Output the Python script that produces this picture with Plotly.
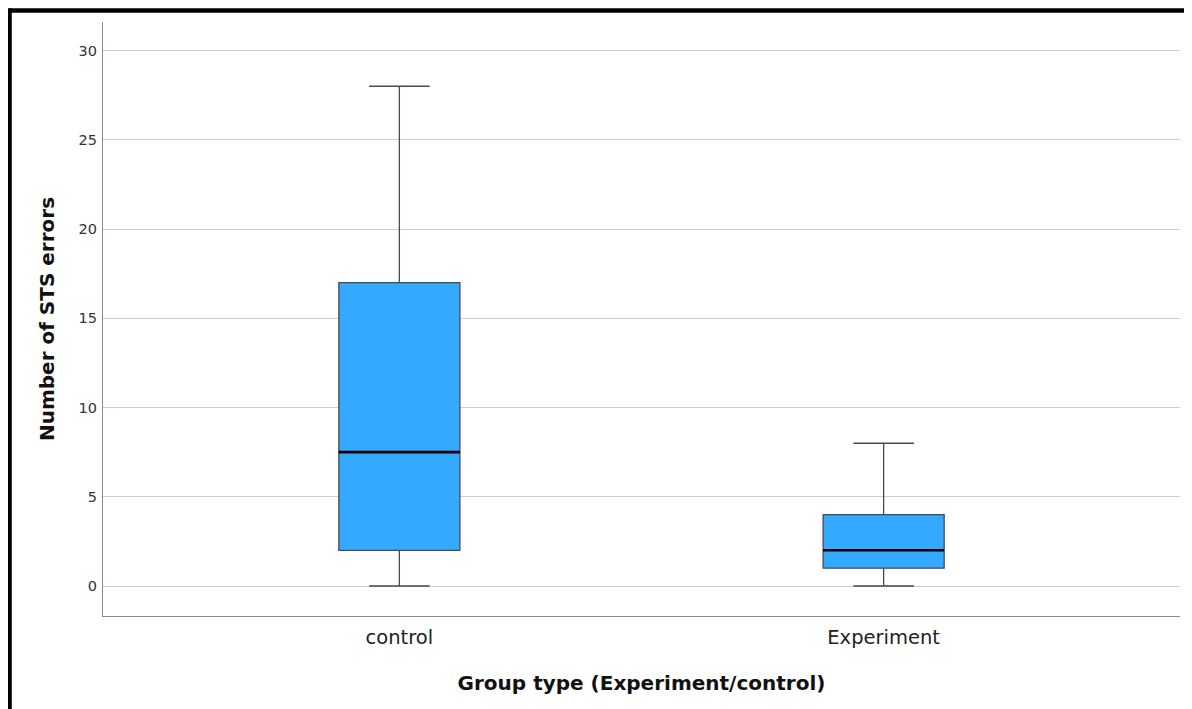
import plotly.graph_objects as go

categories = ["control", "Experiment"]
lower_whisker = [0, 0]
q1_values = [2, 1]
median_values = [7.5, 2]
q3_values = [17, 4]
upper_whisker = [28, 8]
y_ticks = [0, 5, 10, 15, 20, 25, 30]

positions = list(range(len(categories)))
box_w = 0.25

fig = go.Figure()
fig.add_trace(go.Box(
    x=positions,
    lowerfence=lower_whisker,
    q1=q1_values,
    median=median_values,
    q3=q3_values,
    upperfence=upper_whisker,
    width=box_w,
    whiskerwidth=0.5,
    fillcolor="#33aaff",
    line=dict(color="#4a4a4a", width=1.3),
    boxpoints=False,
    showlegend=False,
    hoverinfo="skip",
))
for p, m in zip(positions, median_values):
    fig.add_trace(go.Scatter(
        x=[p - box_w / 2, p + box_w / 2], y=[m, m], mode="lines",
        line=dict(color="#000000", width=2.6), showlegend=False, hoverinfo="skip",
    ))

font_family = "DejaVu Sans"
fig.update_layout(
    width=1192, height=709,
    margin=dict(l=95, r=20, t=14, b=101),
    paper_bgcolor="white", plot_bgcolor="white",
    font=dict(family=font_family, color="#222"),
    xaxis=dict(
        range=[-0.612, 1.612], tickvals=positions, ticktext=categories,
        showgrid=False, zeroline=False, showline=True, linecolor="#8a8a8a", linewidth=1.3,
        ticks="", tickfont=dict(size=19.5, color="#222"), ticklabelstandoff=3,
        title=dict(text="<b>Group type (Experiment/control)</b>", font=dict(size=20, color="#111"), standoff=28),
    ),
    yaxis=dict(
        range=[-1.68, 31.6], tickvals=y_ticks, showgrid=True, gridcolor="#cccccc", gridwidth=1.2,
        zeroline=False, showline=True, linecolor="#8a8a8a", linewidth=1.3,
        ticks="", tickfont=dict(size=14.5, color="#333"), ticklabelstandoff=2,
        title=dict(text="<b>Number of STS errors</b>", font=dict(size=20, color="#111"), standoff=18),
    ),
    shapes=[
        dict(type="line", xref="paper", yref="paper", x0=-0.0868, x1=1.03, y0=1.0194, y1=1.0194,
             line=dict(color="black", width=4.5)),
        dict(type="line", xref="paper", yref="paper", x0=-0.0868, x1=-0.0868, y0=1.023, y1=-0.2,
             line=dict(color="black", width=4.5)),
    ],
)

fig.write_html("out.html")
